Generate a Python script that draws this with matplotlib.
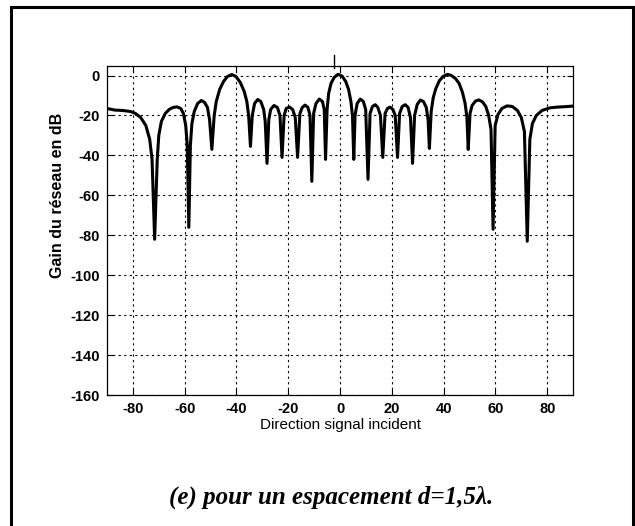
import matplotlib.pyplot as plt
from matplotlib.patches import Rectangle

plt.rcParams['axes.unicode_minus'] = False

# direction (deg) and array gain (dB)
angle = [-90, -87, -84, -81, -79, -77, -75, -73.5, -72.6, -71.6, -70.6, -70, -69, -67.5, -66,
         -64.5, -63, -61.5, -60.5, -59.6, -59, -58.4, -57.8, -57.2, -56.3, -55, -53.6, -52.3,
         -51.2, -50.4, -49.5, -48.6, -47.8, -46.5, -45, -43.5, -41.8, -40.2, -38.5, -37, -36,
         -35.3, -34.6, -33.9, -33, -31.8, -30.6, -29.5, -28.9, -28.2, -27.5, -26.8, -25.5, -24.2,
         -23.2, -22.4, -21.6, -20.8, -19.5, -18.3, -17.3, -16.4, -15.5, -14.6, -13.5, -12.4,
         -11.6, -10.9, -10.2, -9.3, -8, -6.8, -6.1, -5.6, -5, -4.4, -3.5, -2.3, -0.8, 0.8, 2.2,
         3.3, 4.2, 4.8, 5.3, 5.8, 6.6, 7.8, 9, 9.9, 10.8, 11.6, 12.5, 13.6, 14.6, 15.6, 16.5,
         17.4, 18.3, 19.3, 20.4, 21.3, 22.2, 23, 24, 25.2, 26.3, 27.2, 28, 28.8, 29.8, 31, 32.2,
         33.3, 34, 34.5, 35.2, 36, 37, 38.4, 40, 41.5, 43, 44.6, 46, 47.3, 48.3, 49, 49.5, 50.2,
         51, 52.3, 53.6, 55, 56.3, 57.4, 58.3, 59.1, 59.9, 61, 62.5, 64.5, 66.5, 68.5, 70, 71.2,
         72.3, 73.3, 74.3, 75.8, 78, 81, 84, 87, 90]
gain = [-16.5, -17.3, -17.5, -18, -19, -21, -25, -32, -42, -82, -42, -30, -23, -19, -17,
        -16, -15.7, -16.5, -19, -25, -35, -76, -35, -24, -18, -14, -12.5, -13.5,
        -16, -22, -37, -20, -13, -7, -3, -0.5, 0.5, -0.5, -3.5, -8, -13,
        -20, -35.5, -20, -14, -12, -13, -17, -23, -44, -22, -17, -15, -16,
        -20, -41, -20, -16.5, -15.8, -17, -21, -41, -19, -16, -14.8, -16,
        -20, -53, -19, -14, -11.8, -13, -17, -42, -17, -9, -4, -1, 0.6, -0.3, -3,
        -7, -13, -20, -42, -20, -14, -11.8, -13, -17, -52, -19, -15.5, -14.6, -16, -20, -41,
        -19, -16.5, -15.8, -17, -20, -41, -19, -15.5, -14.6, -16, -21, -44, -20, -14.5, -12.3, -13,
        -16, -22, -36.5, -18, -11, -6.5, -2.5, -0.3, 0.6, 0, -1.5, -4, -8.5, -14, -21, -37, -19,
        -15, -12.8, -12.2, -13.2, -15.5, -20, -27, -77, -25, -19.5, -16.5, -15.2, -15.5, -17.5, -21, -28,
        -83, -32, -24, -20, -17.5, -16.2, -15.8, -15.6, -15.3]

xticks = [-80, -60, -40, -20, 0, 20, 40, 60, 80]
yticks = [0, -20, -40, -60, -80, -100, -120, -140, -160]
scan_mark_x = -2.5  # small stray tick above the plot in the scan

fig = plt.figure(figsize=(6.35, 5.26), dpi=100)
ax = fig.add_axes([0.1685, 0.249, 0.734, 0.6264])

ax.plot(angle, gain, color='black', lw=2.2, solid_joinstyle='round')
ax.set_xlim(-90, 90)
ax.set_ylim(-160, 5)
ax.set_xticks(xticks)
ax.set_yticks(yticks)
ax.grid(True, color='black', ls=(0, (2, 3)), lw=0.8)
ax.tick_params(direction='in', top=True, right=True, length=4, width=0.8, pad=5)
for lab in ax.get_xticklabels() + ax.get_yticklabels():
    lab.set_family('Liberation Sans')
    lab.set_fontweight('bold')
    lab.set_fontsize(10.5)
for s in ax.spines.values():
    s.set_linewidth(0.9)

ax.set_xlabel('Direction signal incident', family='Liberation Sans', fontsize=11)
ax.set_ylabel('Gain du réseau en dB', family='Liberation Sans', fontsize=11.5, fontweight='bold')
ax.xaxis.set_label_coords(0.5, -0.07)
ax.yaxis.set_label_coords(-0.09, 0.607)

ax.plot([scan_mark_x, scan_mark_x], [4, 10.5], color='black', lw=1, clip_on=False)

fig.text(0.522, 0.055, '(e) pour un espacement d=1,5λ.', ha='center', va='center',
         family=['Liberation Serif', 'DejaVu Serif'], style='italic', fontweight='bold', fontsize=18)

fig.patches.append(Rectangle((0.0173, -0.05), 0.98, 1.0367, transform=fig.transFigure,
                             fill=False, edgecolor='black', lw=2.2))

fig.savefig('out.png', dpi=100)
